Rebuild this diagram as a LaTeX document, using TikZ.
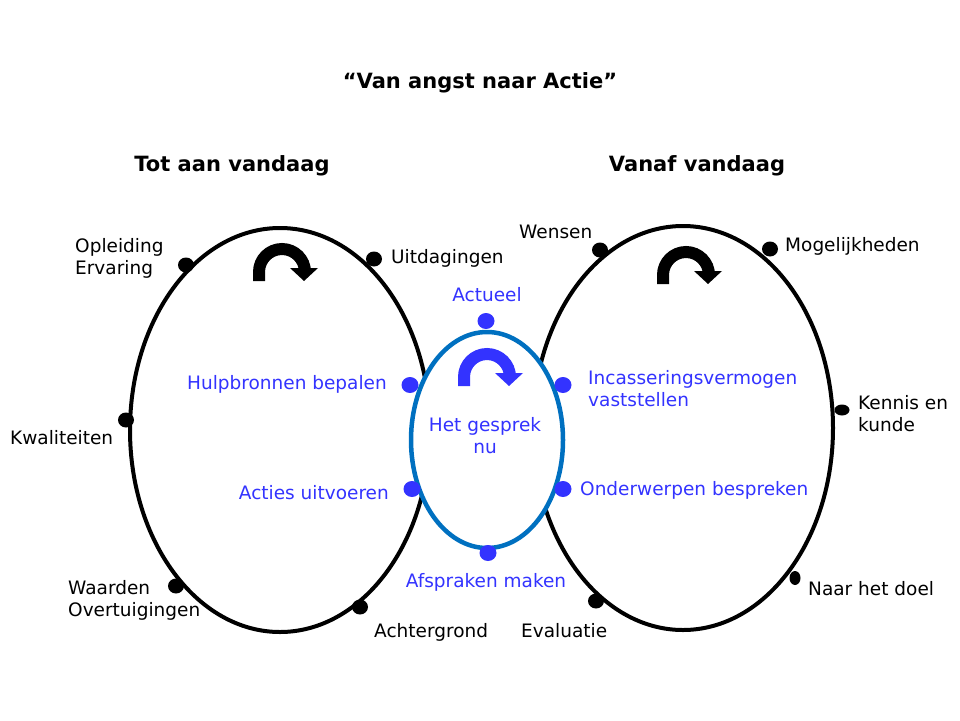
\documentclass[tikz,border=0pt]{standalone}
\usepackage{fontspec}
\setmainfont{DejaVu Sans}
\usetikzlibrary{shapes.geometric}

\definecolor{textblue}{HTML}{3333FF}
\definecolor{ringblue}{HTML}{0070C0}

\tikzset{
  dot/.style={ellipse,fill=black,minimum width=16pt,minimum height=15pt,inner sep=0pt},
  bluedot/.style={dot,fill=textblue,minimum width=17pt,minimum height=16pt},
  tag/.style={inner sep=0pt,align=left,font=\fontsize{18.5}{22}\selectfont},
  bluetag/.style={tag,text=textblue},
  heading/.style={inner sep=0pt,font=\fontsize{21}{25}\selectfont\bfseries},
  turn/.pic={
    \draw[line width=12pt] (-23,9) -- (-23,0) arc (180:360:23);
    \fill (8,-4) -- (36,-4) -- (22,9) -- cycle;
  }
}

\begin{document}
\begin{tikzpicture}[x=1pt,y=-1pt]

    \useasboundingbox (0,0) rectangle (960,720);

    % Title and headings
    \node[heading] (title) at (480,83) {“Van angst naar Actie”};
    \node[heading] (past)  at (232,166) {Tot aan vandaag};
    \node[heading] (future) at (697,166) {Vanaf vandaag};

    % The two big rings
    \draw[line width=4pt] (280,430) ellipse (150 and 202);
    \draw[line width=4pt] (683,428) ellipse (150 and 202);

    % Blue ring in the middle (covers the black lines)
    \draw[line width=4.5pt,ringblue,fill=white] (487,440) ellipse (76 and 108);

    % Turning arrows
    \pic at (282,272) {turn};
    \pic at (686,275) {turn};
    \pic[color=textblue] at (487,377) {turn};

    % Dots on the left ring
    \node[dot] (d1) at (186,265) {};
    \node[dot] (d2) at (374,259) {};
    \node[dot] (d3) at (126,420) {};
    \node[dot] (d4) at (176,586) {};
    \node[dot] (d5) at (360,607) {};

    % Dots on the right ring
    \node[dot] (d6) at (600,250) {};
    \node[dot] (d7) at (770,249) {};
    \node[dot,minimum width=15pt,minimum height=11pt] (d8) at (842,410) {};
    \node[dot,minimum width=11pt,minimum height=14pt] (d9) at (795,578) {};
    \node[dot] (d10) at (596,601) {};

    % Dots on the blue ring
    \node[bluedot] (b1) at (486,321) {};
    \node[bluedot] (b2) at (410,385) {};
    \node[bluedot] (b3) at (563,385) {};
    \node[bluedot] (b4) at (412,489) {};
    \node[bluedot] (b5) at (563,489) {};
    \node[bluedot] (b6) at (488,553) {};

    % Black labels
    \node[tag,anchor=west] (opleiding) at (75,258) {Opleiding\\Ervaring};
    \node[tag,anchor=west] (uitdaging) at (391,258) {Uitdagingen};
    \node[tag,anchor=west] (kwaliteit) at (10,438) {Kwaliteiten};
    \node[tag,anchor=west] (waarden) at (68,600) {Waarden\\Overtuigingen};
    \node[tag,anchor=west] (achtergrond) at (374,632) {Achtergrond};
    \node[tag,anchor=west] (wensen) at (519,232) {Wensen};
    \node[tag,anchor=west] (mogelijk) at (785,246) {Mogelijkheden};
    \node[tag,anchor=west] (kennis) at (858,414) {Kennis en\\kunde};
    \node[tag,anchor=west] (doel) at (808,589) {Naar het doel};
    \node[tag,anchor=west] (evaluatie) at (521,631) {Evaluatie};

    % Blue labels
    \node[bluetag] (actueel) at (487,295) {Actueel};
    \node[bluetag,anchor=east] (hulp) at (387,384) {Hulpbronnen bepalen};
    \node[bluetag,anchor=west] (incasso) at (588,389) {Incasseringsvermogen\\vaststellen};
    \node[bluetag,align=center] (gesprek) at (485,436) {Het gesprek\\nu};
    \node[bluetag,anchor=east] (acties) at (389,493) {Acties uitvoeren};
    \node[bluetag,anchor=west] (onderwerp) at (580,490) {Onderwerpen bespreken};
    \node[bluetag] (afspraak) at (486,582) {Afspraken maken};

\end{tikzpicture}
\end{document}
